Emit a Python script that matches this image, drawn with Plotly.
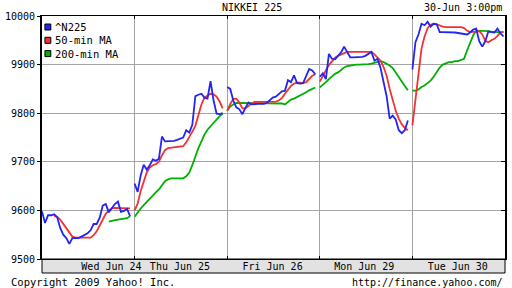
import plotly.graph_objects as go

# ---------------- data ----------------
day_labels = ["Wed Jun 24", "Thu Jun 25", "Fri Jun 26", "Mon Jun 29", "Tue Jun 30"]
label_pos = [0.75, 1.49, 2.49, 3.48, 4.49]
day_bounds = [1, 2, 3, 4]
y_ticks = [9500, 9600, 9700, 9800, 9900, 10000]
y_tick_text = ["9500", "9600", "9700", "9800", "9900", "10000"]
series_names = ["^N225", "50-min MA", "200-min MA"]
series_colors = ["#2424f4", "#f43232", "#00b000"]

n225_d1 = [9598, 9574, 9590, 9590, 9592, 9586, 9564, 9550, 9543, 9531,
           9543, 9543, 9543, 9546, 9550, 9553, 9559, 9572, 9572, 9585,
           9610, 9613, 9596, 9604, 9613, 9618, 9597, 9599, 9603, 9588]
ma50_d1 = [None, None, None, None, 9588, 9587, 9581, 9572, 9563, 9555,
           9546, 9544, 9544, 9544, 9544, 9544, 9544, 9549, 9557, 9569,
           9582, 9593, 9600, 9604, 9605, 9605, 9605, 9605, 9605, 9604]
ma200_d1 = [None, None, None, None, None, None, None, None, None, None,
            None, None, None, None, None, None, None, None, None, None,
            None, None, 9577, 9579, 9580, 9581, 9582, 9582, 9584, 9588]

n225_d2 = [9655, 9638, 9672, 9694, 9684, 9693, 9705, 9702, 9706, 9752,
           9742, 9742, 9742, 9743, 9745, 9747, 9750, 9765, 9760, 9776,
           9835, 9838, 9840, 9832, 9830, 9866, 9826, 9799, 9798, 9800]
ma50_d2 = [9600, 9614, 9640, 9660, 9678, 9688, 9693, 9695, 9700, 9713,
           9724, 9728, 9729, 9730, 9730, 9731, 9732, 9740, 9750, 9762,
           9774, 9796, 9818, 9832, 9836, 9840, 9839, 9834, 9824, 9810]
ma200_d2 = [9587, 9596, 9604, 9611, 9618, 9624, 9631, 9637, 9643, 9652,
            9660, 9664, 9666, 9666, 9666, 9666, 9666, 9670, 9678, 9693,
            9711, 9728, 9742, 9756, 9766, 9773, 9781, 9788, 9794, 9799]

n225_d3 = [9854, 9850, 9826, 9812, 9808, 9798, 9811, 9822, 9818, 9819,
           9819, 9819, 9819, 9821, 9826, 9832, 9834, 9839, 9845, 9846,
           9868, 9864, 9878, 9862, 9861, 9862, 9878, 9891, 9888, 9880]
ma50_d3 = [9805, 9819, 9829, 9830, 9822, 9810, 9810, 9815, 9820, 9823,
           9823, 9823, 9823, 9823, 9823, 9823, 9824, 9826, 9831, 9840,
           9848, 9856, 9861, 9863, 9863, 9862, 9864, 9870, 9877, 9880]
ma200_d3 = [9805, 9814, 9818, 9821, 9821, 9821, 9821, 9821, 9821, 9821,
            9821, 9821, 9821, 9821, 9821, 9821, 9821, 9821, 9820, 9818,
            9823, 9828, 9830, 9833, 9836, 9840, 9843, 9847, 9850, 9853]

n225_d4 = [9875, 9882, 9870, 9922, 9912, 9911, 9918, 9925, 9937, 9926,
           9915, 9915, 9915, 9915, 9916, 9918, 9922, 9926, 9908, 9912,
           9893, 9864, 9835, 9789, 9795, 9787, 9765, 9759, 9765, 9785]
ma50_d4 = [9865, 9878, 9888, 9899, 9907, 9914, 9918, 9921, 9924, 9926,
           9926, 9926, 9926, 9926, 9926, 9926, 9926, 9926, 9921, 9914,
           9908, 9895, 9877, 9850, 9825, 9805, 9789, 9777, 9770, 9765]
ma200_d4 = [9853, 9858, 9864, 9870, 9876, 9881, 9884, 9889, 9894, 9897,
            9898, 9900, 9900, 9900, 9900, 9900, 9901, 9902, 9904, 9906,
            9907, 9905, 9902, 9898, 9893, 9883, 9873, 9865, 9856, 9847]

n225_d5 = [9890, 9946, 9962, 9984, 9981, 9988, 9978, 9984, 9983, 9967,
           9967, 9967, 9967, 9967, 9966, 9965, 9964, 9962, 9962, 9966,
           9972, 9974, 9948, 9937, 9948, 9968, 9967, 9966, 9974, 9964, 9958]
ma50_d5 = [9775, 9830, 9890, 9933, 9958, 9975, 9982, 9984, 9983, 9980,
           9978, 9977, 9977, 9977, 9977, 9977, 9977, 9975, 9970, 9967,
           9967, 9968, 9969, 9962, 9949, 9946, 9950, 9953, 9959, 9966, 9968]
ma200_d5 = [9847, 9846, 9849, 9854, 9857, 9862, 9867, 9875, 9885, 9894,
            9900, 9903, 9905, 9905, 9907, 9907, 9909, 9912, 9929, 9945,
            9960, 9970, 9970, 9970, 9970, 9969, 9968, 9967, 9967, 9967, 9967]

days = [
    (n225_d1, ma50_d1, ma200_d1),
    (n225_d2, ma50_d2, ma200_d2),
    (n225_d3, ma50_d3, ma200_d3),
    (n225_d4, ma50_d4, ma200_d4),
    (n225_d5, ma50_d5, ma200_d5),
]

# sampling interval (fraction of a trading-day slot on the axis)
STEP = 0.0328

xs = []
ys = [[], [], []]
for d, group in enumerate(days):
    for i in range(len(group[0])):
        xs.append(d + i * STEP)
        for k in range(3):
            ys[k].append(group[k][i])
    xs.append(None)
    for k in range(3):
        ys[k].append(None)

FONT = "DejaVu Sans Mono"
GRID = "#a4a4a4"

fig = go.Figure()
# draw order: green, red, blue on top
for k in [2, 1, 0]:
    fig.add_trace(go.Scatter(
        x=xs, y=ys[k], mode="lines", name=series_names[k],
        line=dict(color=series_colors[k], width=1.8),
        connectgaps=False, showlegend=False, hoverinfo="skip"))

# helper trace for right-side axis ticks
fig.add_trace(go.Scatter(x=[None], y=[None], yaxis="y2", showlegend=False,
                         hoverinfo="skip"))

W, H = 512, 288
ML, MR, MT, MB = 34, 5, 16, 29
PW, PH = W - ML - MR, H - MT - MB


def px_x(px):
    return (px - ML) / PW


def px_y(py):
    return (H - MB - py) / PH


shapes = []
annotations = []

# x-axis band
shapes.append(dict(type="rect", xref="paper", yref="paper",
                   x0=0, x1=1, y0=px_y(273), y1=0,
                   fillcolor="#e2e2e2", line=dict(color="black", width=1),
                   layer="below"))

# manual legend
for k in range(3):
    cy = 27 + 13.3 * k
    shapes.append(dict(type="rect", xref="paper", yref="paper",
                       x0=px_x(37), x1=px_x(43), y0=px_y(cy + 3), y1=px_y(cy - 3),
                       fillcolor=series_colors[k],
                       line=dict(color="black", width=1)))
    annotations.append(dict(xref="paper", yref="paper", x=px_x(45), y=px_y(cy),
                            text=series_names[k], showarrow=False,
                            xanchor="left", yanchor="middle",
                            font=dict(family=FONT, size=10.5, color="black")))

# header / footer texts
annotations.append(dict(xref="paper", yref="paper", x=px_x(249), y=px_y(7),
                        text="NIKKEI 225", showarrow=False,
                        xanchor="center", yanchor="middle",
                        font=dict(family=FONT, size=10, color="black")))
annotations.append(dict(xref="paper", yref="paper", x=px_x(506), y=px_y(7),
                        text="30-Jun 3:00pm", showarrow=False,
                        xanchor="right", yanchor="middle",
                        font=dict(family=FONT, size=10, color="black")))
annotations.append(dict(xref="paper", yref="paper", x=px_x(0), y=px_y(282),
                        text="Copyright 2009 Yahoo! Inc.", showarrow=False,
                        xanchor="left", yanchor="middle",
                        font=dict(family=FONT, size=10.5, color="black")))
annotations.append(dict(xref="paper", yref="paper", x=px_x(507), y=px_y(282),
                        text="http://finance.yahoo.com/", showarrow=False,
                        xanchor="right", yanchor="middle",
                        font=dict(family=FONT, size=10, color="black")))

fig.update_layout(
    width=W, height=H, autosize=False,
    margin=dict(l=ML, r=MR, t=MT, b=MB, pad=0),
    paper_bgcolor="white", plot_bgcolor="white",
    showlegend=False,
    xaxis=dict(range=[0, 5], tickmode="array", tickvals=label_pos,
               ticktext=day_labels, ticks="", showgrid=False, zeroline=False,
               showline=True, linecolor="black", linewidth=1, mirror="ticks",
               ticklabelstandoff=-2,
               tickfont=dict(family=FONT, size=10, color="black"),
               minor=dict(tickmode="array", tickvals=day_bounds, showgrid=True,
                          gridcolor=GRID, gridwidth=1, ticks="inside",
                          ticklen=3, tickcolor="black")),
    yaxis=dict(range=[9500, 10000], tickmode="array", tickvals=y_ticks,
               ticktext=y_tick_text,
               ticks="outside", ticklen=3, tickcolor="black",
               showgrid=True, gridcolor=GRID, gridwidth=1, zeroline=False,
               showline=True, linecolor="black", linewidth=2, mirror=True,
               tickfont=dict(family=FONT, size=10, color="black")),
    yaxis2=dict(range=[9500, 10000], overlaying="y", side="right",
                tickmode="array", tickvals=y_ticks, ticks="inside", ticklen=4,
                tickcolor="black", showticklabels=False, showgrid=False,
                zeroline=False, showline=False),
    shapes=shapes,
    annotations=annotations,
)

fig.write_html("out.html")
